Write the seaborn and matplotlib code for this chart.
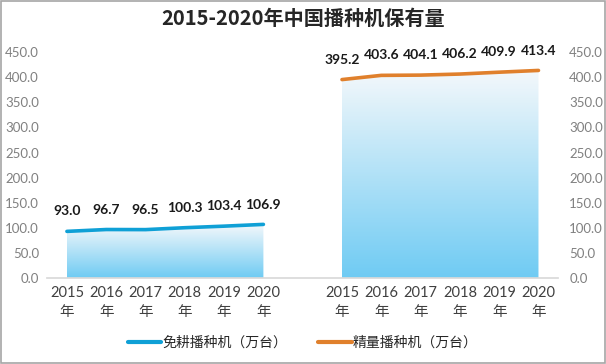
import numpy as np
import pandas as pd
import matplotlib
matplotlib.use("Agg")
import matplotlib.pyplot as plt
from matplotlib.patches import Rectangle, Polygon
from matplotlib.colors import LinearSegmentedColormap
import seaborn as sns

# ---- data ----
years = ["2015", "2016", "2017", "2018", "2019", "2020"]
no_till = [93.0, 96.7, 96.5, 100.3, 103.4, 106.9]      # 免耕播种机（万台）
precision = [395.2, 403.6, 404.1, 406.2, 409.9, 413.4]  # 精量播种机（万台）
series_names = ["免耕播种机（万台）", "精量播种机（万台）"]
y_ticks = [0, 50, 100, 150, 200, 250, 300, 350, 400, 450]

sns.set_theme(style="white")
plt.rcParams['font.family'] = ['Noto Sans CJK SC', 'DejaVu Sans']
num_font = ['Lato', 'Noto Sans CJK SC']  # Calibri-like for numbers

# two groups of six categories with one empty slot in between
pos_a = list(range(0, 6))
pos_b = list(range(7, 13))
df = pd.DataFrame({
    "pos": pos_a + pos_b,
    "value": no_till + precision,
    "series": [series_names[0]] * 6 + [series_names[1]] * 6,
})

line_colors = {series_names[0]: "#0FA0D6", series_names[1]: "#E0802C"}
fill_cmap = LinearSegmentedColormap.from_list("fill", ["#6FCBF3", "#F4F8FB"])

fig = plt.figure(figsize=(6.06, 3.64), dpi=100)
ax = fig.add_axes([0.078, 0.236, 0.843, 0.621])
ax.set_xlim(-0.5, 12.5)
ax.set_ylim(0, 450)

# gradient area under each series
for name, pos, vals in [(series_names[0], pos_a, no_till), (series_names[1], pos_b, precision)]:
    grad = np.linspace(0, 1, 256).reshape(-1, 1)
    top = max(vals)
    im = ax.imshow(grad, extent=[pos[0], pos[-1], 0, top], origin="lower",
                   cmap=fill_cmap, aspect="auto", zorder=1)
    poly = Polygon([(pos[0], 0)] + list(zip(pos, vals)) + [(pos[-1], 0)],
                   closed=True, facecolor="none", edgecolor="none")
    ax.add_patch(poly)
    im.set_clip_path(poly)

sns.lineplot(data=df, x="pos", y="value", hue="series", palette=line_colors,
             linewidth=2.6, ax=ax, zorder=3, legend=False)

# value labels
for p, v in zip(pos_a + pos_b, no_till + precision):
    ax.annotate(f"{v:.1f}", (p, v), xytext=(0, 10), textcoords="offset points",
                ha="center", va="bottom", fontsize=10, fontweight="bold",
                color="#1A1A1A", family=num_font)

ax.set_xticks(pos_a + pos_b)
ax.set_xticklabels([f"{y}\n年" for y in years] * 2, fontsize=10.5, color="#404040",
                   linespacing=1.45, family=num_font)
ax.set_yticks(y_ticks)
ax.set_yticklabels([f"{t:.1f}" for t in y_ticks], fontsize=9.5, color="#808080",
                   family=num_font)
ax.tick_params(axis="both", length=0, pad=6)
ax.set_xlabel("")
ax.set_ylabel("")
for s in ["top", "left", "right"]:
    ax.spines[s].set_visible(False)
ax.spines["bottom"].set_color("#D9D9D9")
ax.grid(False)

ax2 = ax.twinx()
ax2.set_ylim(0, 450)
ax2.set_yticks(y_ticks)
ax2.set_yticklabels([f"{t:.1f}" for t in y_ticks], fontsize=9.5, color="#808080",
                    family=num_font)
ax2.tick_params(axis="y", length=0, pad=8)
for s in ax2.spines.values():
    s.set_visible(False)
ax2.grid(False)

fig.text(0.5, 0.95, "2015-2020年中国播种机保有量", ha="center", va="center",
         fontsize=14.5, fontweight="bold", color="#262626")

handles = [plt.Line2D([], [], color=line_colors[n], linewidth=3) for n in series_names]
fig.legend(handles, series_names, loc="center", bbox_to_anchor=(0.5, 0.058), ncol=2,
           frameon=False, fontsize=10, handlelength=2.4, handletextpad=0.1,
           columnspacing=2.2, labelcolor="#262626")

fig.patches.append(Rectangle((0.001, 0.002), 0.997, 0.995, transform=fig.transFigure,
                             fill=False, edgecolor="#A6A6A6", linewidth=1.2))

fig.savefig("out.png", dpi=100)
